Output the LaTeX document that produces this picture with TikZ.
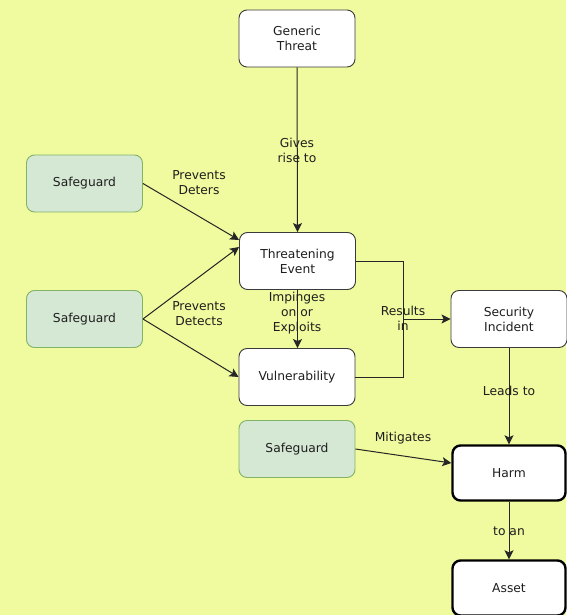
\documentclass[tikz,border=0pt]{standalone}
\usepackage{fontspec}
\setmainfont{DejaVu Sans}
\usetikzlibrary{arrows.meta}
\definecolor{bgcol}{HTML}{F0FA9E}
\definecolor{sgfill}{HTML}{D5E8D4}
\definecolor{sgdraw}{HTML}{82B366}
\definecolor{boxdraw}{HTML}{3A3A3A}
\definecolor{txt}{HTML}{1E1E1E}
\tikzset{
  base/.style={rectangle, rounded corners=8pt, minimum width=116pt, minimum height=57pt,
    align=center, font=\fontsize{12.3}{15}\selectfont, text=txt, inner sep=0pt},
  plainbox/.style={base, draw=boxdraw, line width=0.9pt, fill=white},
  strongbox/.style={base, draw=black, line width=2.4pt, fill=white, minimum width=113pt, minimum height=55pt},
  guardbox/.style={base, draw=sgdraw, line width=0.9pt, fill=sgfill},
  link/.style={draw=black!85, line width=1pt, -{Stealth[length=9pt,width=9pt,inset=2pt]}},
  tag/.style={font=\fontsize{12.3}{15}\selectfont, text=txt, align=center, inner sep=0pt}
}
\begin{document}
\begin{tikzpicture}[x=1pt,y=-1pt]
  \path[fill=bgcol] (0,0) rectangle (566,615);
  \useasboundingbox (0,0) rectangle (566,615);

  % boxes
  \node[plainbox] (threat) at (297,38.5) {Generic\\Threat};
  \node[plainbox] (event) at (297.5,261) {Threatening\\Event};
  \node[plainbox] (vuln) at (297,377) {Vulnerability};
  \node[plainbox] (incident) at (509,319) {Security\\Incident};
  \node[guardbox] (sgA) at (84.5,183.5) {Safeguard};
  \node[guardbox] (sgB) at (84.5,319) {Safeguard};
  \node[guardbox] (sgC) at (297,449) {Safeguard};
  \node[strongbox] (harm) at (509,473) {Harm};
  \node[strongbox] (asset) at (509,588) {Asset};

  % routing points for the two "results in" connectors
  \coordinate (elbowTop) at (403,261);
  \coordinate (elbowBot) at (403,377);
  \coordinate (elbowMid) at (403,319);

  % connectors
  \draw[link] (threat.south) -- (event.north);
  \draw[link] (sgA.east) -- ([yshift=21pt]event.west);
  \draw[link] (sgB.east) -- ([yshift=14pt]event.west);
  \draw[link] (sgB.east) -- (vuln.west);
  \draw[link] (event.south) -- (event.south |- vuln.north);
  \draw[draw=black!85, line width=1pt] (event.east) -- (elbowTop) -- (elbowBot) -- (vuln.east);
  \draw[link] (elbowMid) -- (incident.west);
  \draw[link] (incident.south) -- (harm.north);
  \draw[link] (sgC.east) -- ([yshift=10pt]harm.west);
  \draw[link] (harm.south) -- (asset.north);

  % connector labels
  \node[tag] (lGives) at (297,150) {Gives\\rise to};
  \node[tag] (lDeters) at (199,183) {Prevents\\Deters};
  \node[tag] (lDetects) at (199,314) {Prevents\\Detects};
  \node[tag] (lImp) at (297,313) {Impinges\\on or\\Exploits};
  \node[tag] (lRes) at (403,318) {Results\\in};
  \node[tag] (lLeads) at (509,391) {Leads to};
  \node[tag] (lMit) at (403,438) {Mitigates};
  \node[tag] (lTo) at (509,531) {to an};
\end{tikzpicture}
\end{document}
